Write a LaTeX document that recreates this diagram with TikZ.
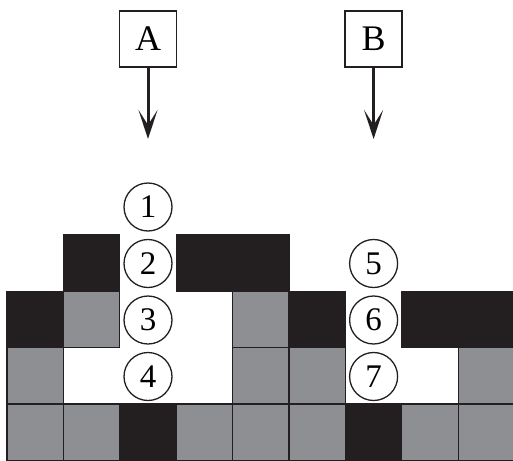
\documentclass[tikz,border=0pt]{standalone}
\usepackage{fontspec}
\setmainfont{Liberation Serif}
\usetikzlibrary{arrows.meta}
\definecolor{ink}{RGB}{35,31,32}
\definecolor{cellgray}{RGB}{142,143,147}
\begin{document}
\begin{tikzpicture}[x=1pt,y=-1pt,
  cellline/.style={draw=ink,line width=1.3pt},
  labelbox/.style={draw=ink,line width=1.3pt,minimum width=57pt,minimum height=56pt,inner sep=0pt,font=\fontsize{36}{36}\selectfont},
  numcirc/.style={circle,draw=ink,line width=1.3pt,minimum size=48pt,inner sep=0pt,font=\fontsize{33}{33}\selectfont},
  droparrow/.style={draw=ink,line width=3pt,-{Stealth[length=29pt,width=19pt,inset=15pt]}}]
\useasboundingbox (0,0) rectangle (513,460);
% gray cells
\foreach \c/\r in {2/2,5/2,1/3,5/3,6/3,9/3,1/4,2/4,4/4,5/4,6/4,8/4,9/4}
  \path[cellline,fill=cellgray] ({7+56.4*(\c-1)},{235+56.3*(\r-1)}) rectangle +(56.4,56.3);
% black cells
\foreach \c/\r in {2/1,4/1,5/1,1/2,6/2,8/2,9/2,3/4,7/4}
  \path[cellline,fill=ink] ({7+56.4*(\c-1)},{235+56.3*(\r-1)}) rectangle +(56.4,56.3);
% labels
\node[labelbox] (A) at (148,39) {A};
\node[labelbox] (B) at (373.6,39) {B};
\coordinate (ta) at (148,139);
\coordinate (tb) at (373.6,139);
\draw[droparrow] (A.south) -- (ta);
\draw[droparrow] (B.south) -- (tb);
% numbered circles
\node[numcirc] (n1) at (148,207) {1};
\node[numcirc] (n2) at (148,263.5) {2};
\node[numcirc] (n3) at (148,320) {3};
\node[numcirc] (n4) at (148,376.5) {4};
\node[numcirc] (n5) at (373.6,263.5) {5};
\node[numcirc] (n6) at (373.6,320) {6};
\node[numcirc] (n7) at (373.6,376.5) {7};
\end{tikzpicture}
\end{document}
